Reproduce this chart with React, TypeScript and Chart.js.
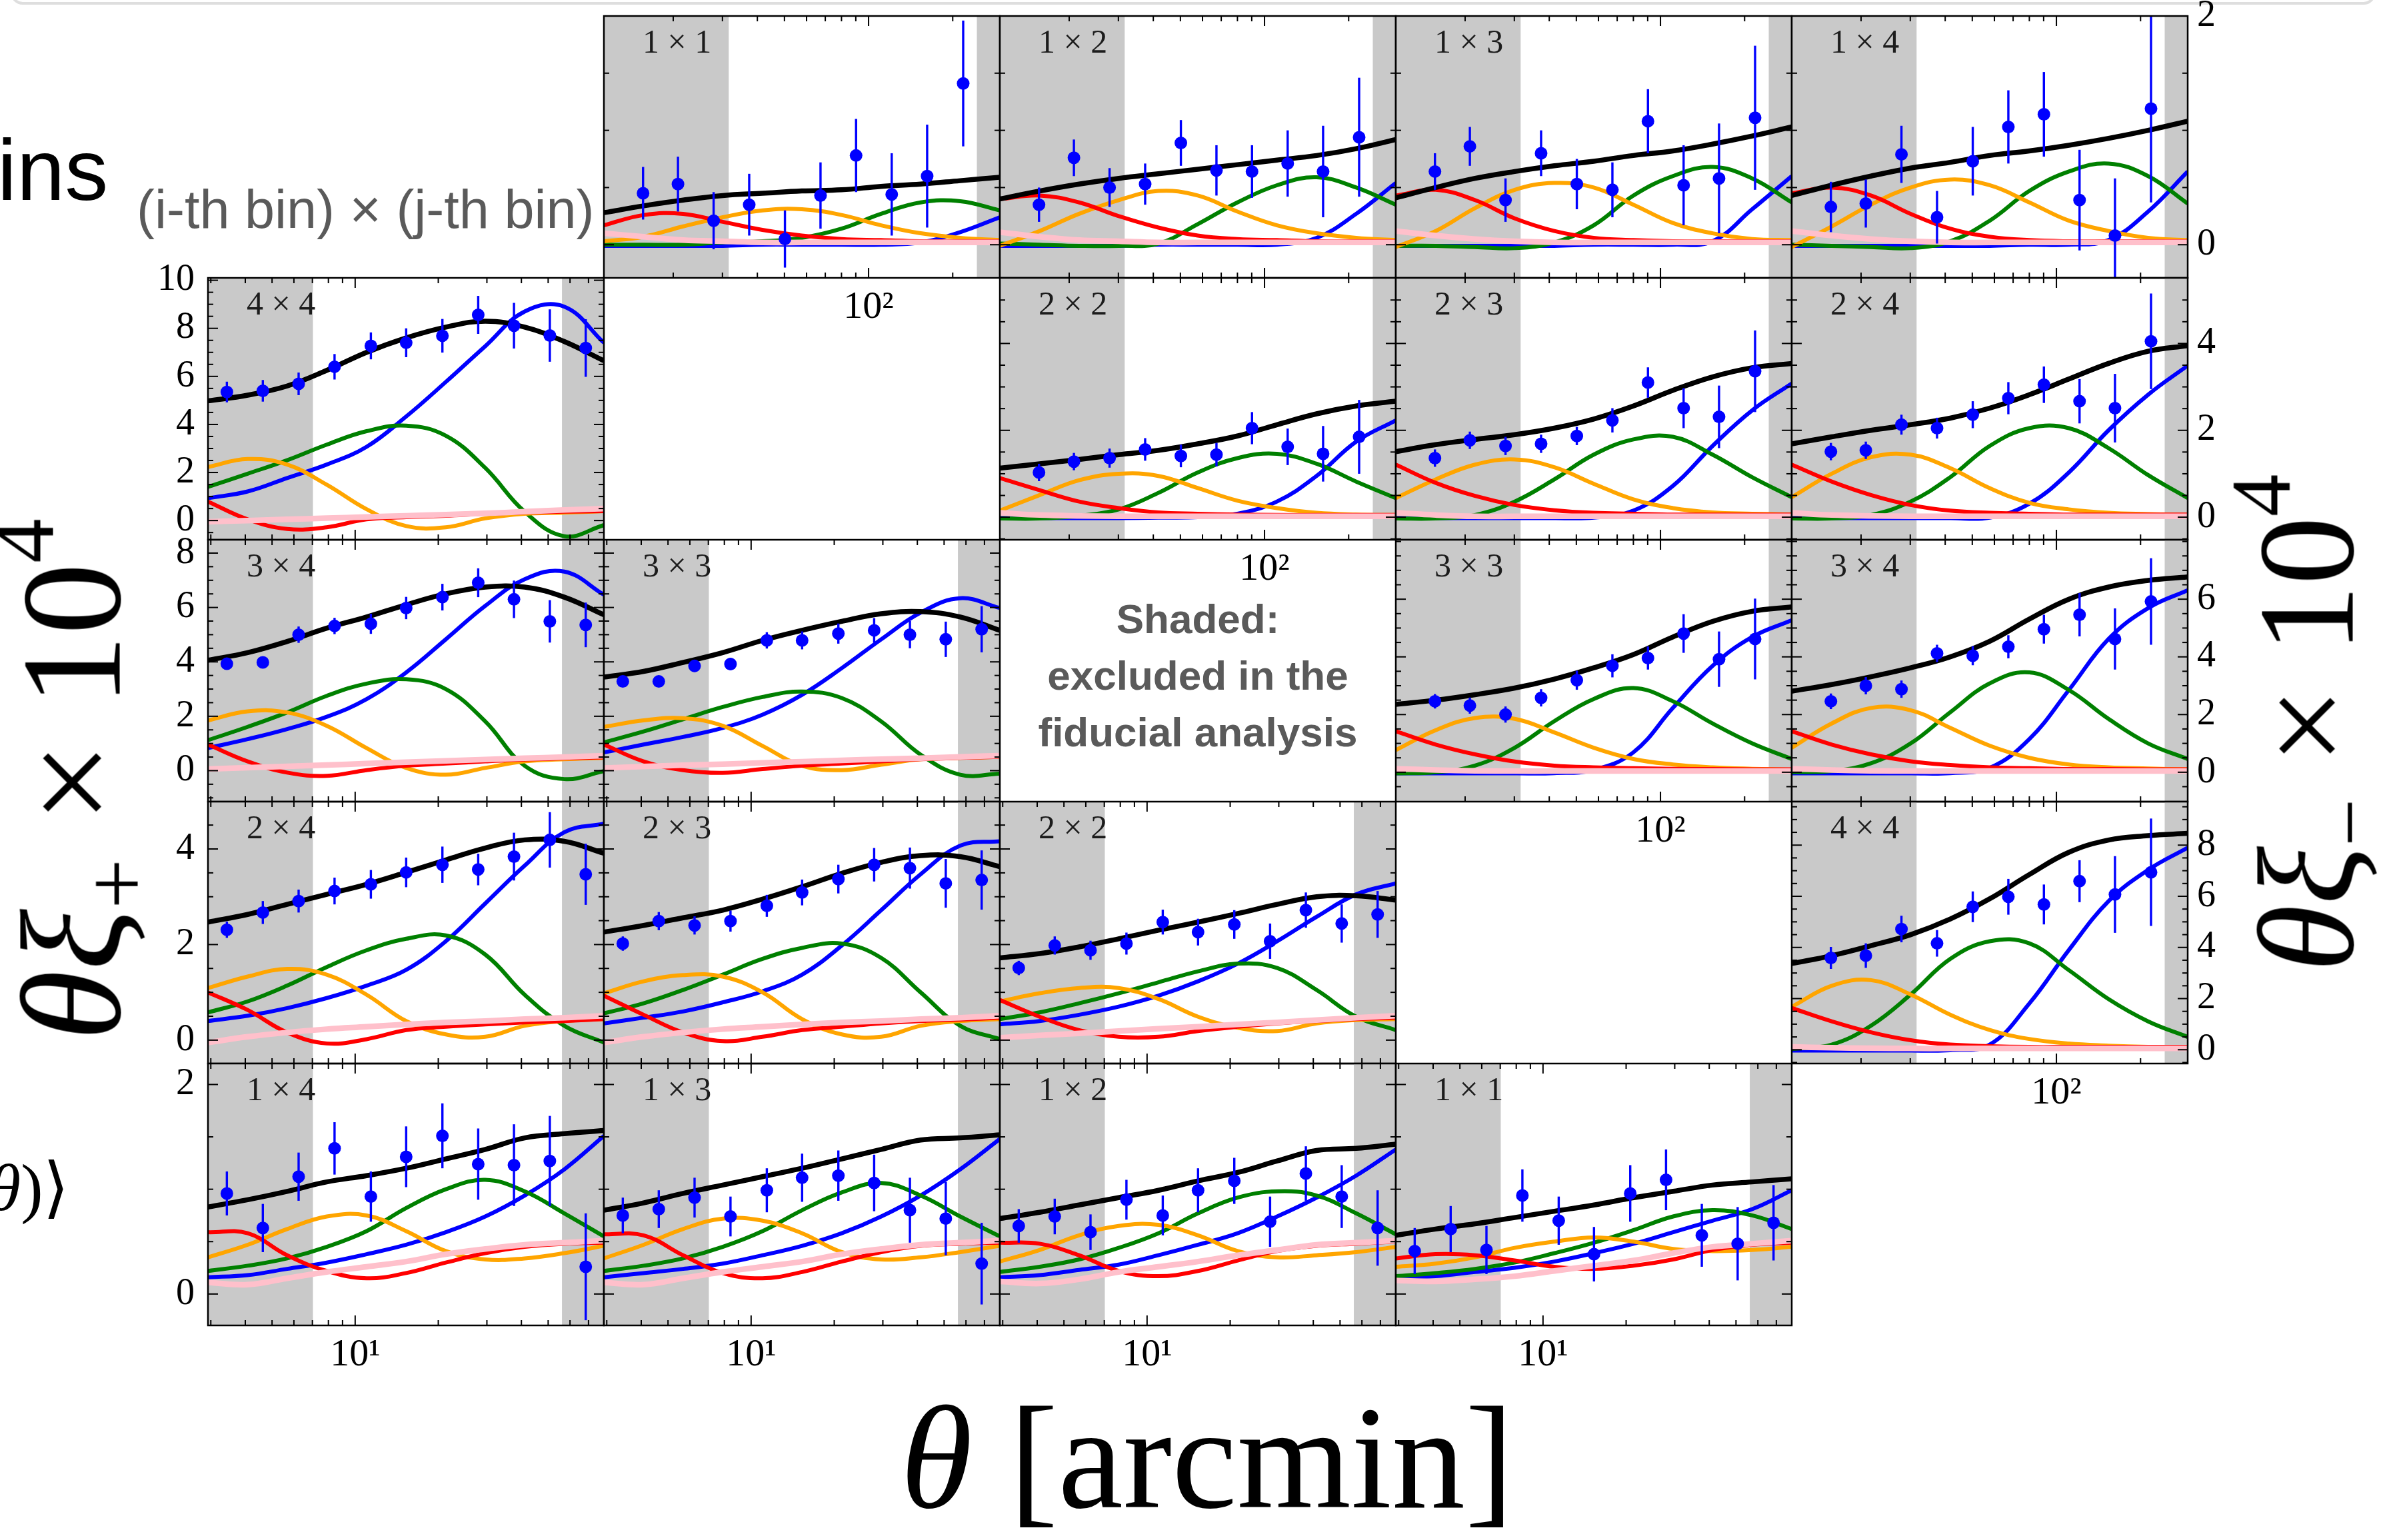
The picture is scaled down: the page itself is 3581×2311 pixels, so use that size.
import React, { useEffect, useRef } from "react";
import { Chart, registerables } from "chart.js";

Chart.register(...registerables);

// ---------------- θ sampling (arcmin) ----------------
const XIP_CURVE_THETA = [2.93, 4.08, 5.67, 7.89, 11.0, 15.3, 21.3, 29.6, 41.1, 57.2, 79.6];
const XIP_DATA_THETA = [3.43, 4.63, 6.24, 8.42, 11.4, 15.3, 20.7, 27.9, 37.6, 50.7, 68.4];
const XIM_CURVE_THETA = [11.3, 15.7, 21.7, 30.1, 41.7, 57.7, 80.0, 110.8, 153.6, 212.8, 294.9];
const XIM_DATA_THETA = [15.6, 20.8, 27.9, 37.4, 50.2, 67.3, 90.2, 121, 162, 218];

const XIP_THETA_RANGE = [2.93, 79.6];
const XIM_THETA_RANGE = [11.3, 294.9];
const XIP_EXCLUDED = [7.03, 56.1];
const XIM_EXCLUDED = [31.6, 244];
const XIP_MINOR_TICKS = [3, 4, 5, 6, 7, 8, 9, 20, 30, 40, 50, 60, 70];
const XIP_MAJOR_TICKS = [10];
const XIM_MINOR_TICKS = [20, 30, 40, 50, 60, 70, 80, 90, 200];
const XIM_MAJOR_TICKS = [100];

// ---------------- y ranges & labels per row ----------------
const XIP_ROW1_RANGE = [-0.8, 10.1];
const XIP_ROW2_RANGE = [-1.14, 8.49];
const XIP_ROW3_RANGE = [-0.49, 4.99];
const XIP_ROW4_RANGE = [-0.3, 2.2];
const XIM_ROW0_RANGE = [-0.29, 2.0];
const XIM_ROW1_RANGE = [-0.52, 5.51];
const XIM_ROW2_RANGE = [-1.02, 8.06];
const XIM_ROW3_RANGE = [-0.54, 9.7];

const XIP_ROW1_LABELS = [0, 2, 4, 6, 8, 10];
const XIP_ROW2_LABELS = [0, 2, 4, 6, 8];
const XIP_ROW3_LABELS = [0, 2, 4];
const XIP_ROW4_LABELS = [0, 2];
const XIM_ROW0_LABELS = [0, 2];
const XIM_ROW1_LABELS = [0, 2, 4];
const XIM_ROW2_LABELS = [0, 2, 4, 6];
const XIM_ROW3_LABELS = [0, 2, 4, 6, 8];

// ---------------- ξ+ panels ----------------
const P44_TOTAL = [4.98, 5.22, 5.6, 6.25, 7.0, 7.6, 8.05, 8.3, 8.05, 7.45, 6.65];
const P44_BLUE = [0.93, 1.21, 1.77, 2.33, 3.07, 4.33, 5.77, 7.26, 8.7, 8.9, 7.4];
const P44_GREEN = [1.4, 1.95, 2.51, 3.16, 3.72, 3.95, 3.53, 2.19, 0.37, -0.65, -0.19];
const P44_ORANGE = [2.23, 2.56, 2.33, 1.49, 0.47, -0.23, -0.28, 0.09, 0.28, 0.33, 0.39];
const P44_RED = [0.79, 0.05, -0.35, -0.28, 0.05, 0.14, 0.2, 0.28, 0.33, 0.37, 0.39];
const P44_PINK = [-0.05, 0.0, 0.05, 0.1, 0.15, 0.2, 0.25, 0.3, 0.37, 0.44, 0.5];
const P44_DATA = [5.35, 5.4, 5.69, 6.4, 7.27, 7.4, 7.69, 8.56, 8.11, 7.7, 7.18];
const P44_ERR = [0.43, 0.45, 0.47, 0.53, 0.56, 0.6, 0.7, 0.79, 0.95, 1.09, 1.2];

const P34_TOTAL = [4.06, 4.34, 4.75, 5.24, 5.65, 6.1, 6.5, 6.75, 6.75, 6.38, 5.73];
const P34_BLUE = [0.83, 1.16, 1.53, 1.98, 2.63, 3.61, 4.83, 6.06, 7.04, 7.32, 6.47];
const P34_GREEN = [1.12, 1.61, 2.14, 2.75, 3.2, 3.36, 3.0, 1.81, 0.18, -0.31, -0.02];
const P34_ORANGE = [1.85, 2.18, 2.14, 1.65, 0.83, 0.1, -0.15, 0.1, 0.34, 0.42, 0.47];
const P34_RED = [0.96, 0.34, -0.07, -0.19, 0.02, 0.18, 0.26, 0.34, 0.41, 0.45, 0.49];
const P34_PINK = [0.06, 0.11, 0.16, 0.21, 0.26, 0.31, 0.36, 0.41, 0.46, 0.5, 0.55];
const P34_DATA = [3.93, 3.98, 5.0, 5.32, 5.4, 5.98, 6.38, 6.91, 6.3, 5.49, 5.36];
const P34_ERR = [0.2, 0.2, 0.3, 0.3, 0.37, 0.41, 0.49, 0.53, 0.69, 0.78, 0.82];

const P33_TOTAL = [3.44, 3.65, 3.98, 4.34, 4.79, 5.16, 5.49, 5.77, 5.85, 5.65, 5.16];
const P33_BLUE = [0.67, 0.96, 1.24, 1.57, 2.06, 2.79, 3.77, 4.83, 5.81, 6.34, 5.98];
const P33_GREEN = [1.04, 1.44, 1.89, 2.34, 2.71, 2.91, 2.67, 1.81, 0.59, -0.15, -0.11];
const P33_ORANGE = [1.61, 1.85, 1.93, 1.65, 0.91, 0.18, 0.02, 0.22, 0.42, 0.47, 0.51];
const P33_RED = [0.96, 0.34, 0.02, -0.08, 0.06, 0.18, 0.26, 0.34, 0.42, 0.47, 0.51];
const P33_PINK = [0.1, 0.15, 0.2, 0.24, 0.29, 0.33, 0.38, 0.42, 0.46, 0.51, 0.55];
const P33_DATA = [3.28, 3.28, 3.85, 3.92, 4.79, 4.79, 5.04, 5.16, 5.0, 4.83, 5.2];
const P33_ERR = [0.2, 0.2, 0.22, 0.22, 0.3, 0.33, 0.37, 0.45, 0.5, 0.65, 0.85];

const P24_TOTAL = [2.47, 2.63, 2.84, 3.05, 3.26, 3.51, 3.77, 4.02, 4.19, 4.16, 3.91];
const P24_BLUE = [0.4, 0.51, 0.67, 0.88, 1.14, 1.47, 2.07, 2.86, 3.65, 4.35, 4.53];
const P24_GREEN = [0.58, 0.81, 1.14, 1.53, 1.88, 2.12, 2.19, 1.79, 0.95, 0.3, -0.05];
const P24_ORANGE = [1.09, 1.33, 1.49, 1.37, 0.95, 0.4, 0.12, 0.07, 0.3, 0.4, 0.44];
const P24_RED = [1.0, 0.63, 0.16, -0.07, 0.02, 0.21, 0.28, 0.33, 0.37, 0.4, 0.44];
const P24_PINK = [-0.05, 0.07, 0.16, 0.23, 0.28, 0.33, 0.37, 0.4, 0.44, 0.47, 0.51];
const P24_DATA = [2.31, 2.67, 2.91, 3.12, 3.26, 3.51, 3.67, 3.57, 3.84, 4.19, 3.47];
const P24_ERR = [0.17, 0.24, 0.24, 0.28, 0.3, 0.31, 0.38, 0.33, 0.5, 0.58, 0.64];

const P23_TOTAL = [2.26, 2.4, 2.56, 2.72, 2.95, 3.21, 3.49, 3.72, 3.86, 3.84, 3.63];
const P23_BLUE = [0.35, 0.47, 0.6, 0.79, 1.02, 1.37, 1.98, 2.72, 3.47, 4.07, 4.16];
const P23_GREEN = [0.56, 0.77, 1.05, 1.37, 1.7, 1.93, 2.02, 1.72, 1.0, 0.3, 0.02];
const P23_ORANGE = [0.98, 1.23, 1.36, 1.33, 1.0, 0.44, 0.12, 0.07, 0.3, 0.4, 0.44];
const P23_RED = [0.93, 0.53, 0.16, -0.02, 0.07, 0.21, 0.28, 0.35, 0.4, 0.43, 0.47];
const P23_PINK = [-0.05, 0.07, 0.16, 0.23, 0.28, 0.33, 0.37, 0.4, 0.44, 0.47, 0.51];
const P23_DATA = [2.02, 2.49, 2.4, 2.49, 2.81, 3.09, 3.37, 3.67, 3.6, 3.28, 3.35];
const P23_ERR = [0.15, 0.19, 0.19, 0.22, 0.23, 0.27, 0.3, 0.35, 0.43, 0.51, 0.62];

const P22_TOTAL = [1.72, 1.81, 1.95, 2.12, 2.3, 2.47, 2.65, 2.84, 3.0, 3.02, 2.93];
const P22_BLUE = [0.33, 0.4, 0.53, 0.7, 0.93, 1.23, 1.6, 2.07, 2.58, 3.05, 3.28];
const P22_GREEN = [0.44, 0.58, 0.77, 0.98, 1.21, 1.44, 1.6, 1.51, 1.05, 0.49, 0.21];
const P22_ORANGE = [0.81, 0.98, 1.09, 1.09, 0.86, 0.49, 0.26, 0.19, 0.35, 0.42, 0.44];
const P22_RED = [0.84, 0.49, 0.21, 0.07, 0.07, 0.19, 0.28, 0.35, 0.4, 0.44, 0.47];
const P22_PINK = [0.05, 0.1, 0.14, 0.19, 0.24, 0.28, 0.33, 0.37, 0.42, 0.47, 0.51];
const P22_DATA = [1.51, 1.98, 1.88, 2.02, 2.47, 2.26, 2.42, 2.07, 2.72, 2.44, 2.63];
const P22_ERR = [0.15, 0.19, 0.2, 0.23, 0.26, 0.28, 0.3, 0.37, 0.37, 0.4, 0.49];

const P14_TOTAL = [0.83, 0.9, 0.98, 1.07, 1.13, 1.2, 1.29, 1.38, 1.49, 1.53, 1.56];
const P14_BLUE = [0.16, 0.18, 0.24, 0.3, 0.38, 0.47, 0.59, 0.74, 0.94, 1.19, 1.51];
const P14_GREEN = [0.22, 0.27, 0.34, 0.45, 0.6, 0.82, 1.0, 1.09, 0.98, 0.77, 0.55];
const P14_ORANGE = [0.35, 0.47, 0.62, 0.74, 0.75, 0.6, 0.41, 0.33, 0.34, 0.39, 0.46];
const P14_RED = [0.59, 0.58, 0.37, 0.22, 0.15, 0.2, 0.3, 0.39, 0.45, 0.48, 0.49];
const P14_PINK = [0.11, 0.09, 0.15, 0.21, 0.26, 0.31, 0.38, 0.43, 0.47, 0.49, 0.51];
const P14_DATA = [0.96, 0.63, 1.12, 1.39, 0.93, 1.31, 1.51, 1.24, 1.23, 1.27, 0.26];
const P14_ERR = [0.21, 0.23, 0.23, 0.25, 0.24, 0.29, 0.31, 0.34, 0.39, 0.43, 0.51];

const P13_TOTAL = [0.8, 0.87, 0.96, 1.04, 1.12, 1.2, 1.29, 1.38, 1.47, 1.49, 1.52];
const P13_BLUE = [0.16, 0.2, 0.24, 0.29, 0.37, 0.46, 0.58, 0.74, 0.94, 1.19, 1.48];
const P13_GREEN = [0.22, 0.27, 0.34, 0.45, 0.6, 0.8, 0.97, 1.06, 0.94, 0.74, 0.55];
const P13_ORANGE = [0.34, 0.47, 0.62, 0.72, 0.7, 0.58, 0.4, 0.33, 0.35, 0.4, 0.46];
const P13_RED = [0.57, 0.56, 0.37, 0.2, 0.15, 0.21, 0.31, 0.4, 0.46, 0.48, 0.49];
const P13_PINK = [0.11, 0.09, 0.15, 0.21, 0.26, 0.31, 0.38, 0.43, 0.47, 0.49, 0.51];
const P13_DATA = [0.75, 0.81, 0.92, 0.74, 0.99, 1.11, 1.13, 1.06, 0.8, 0.72, 0.29];
const P13_ERR = [0.17, 0.18, 0.19, 0.19, 0.21, 0.23, 0.24, 0.27, 0.31, 0.35, 0.39];

const P12_TOTAL = [0.72, 0.78, 0.85, 0.92, 0.99, 1.08, 1.16, 1.27, 1.37, 1.39, 1.43];
const P12_BLUE = [0.16, 0.18, 0.23, 0.28, 0.37, 0.47, 0.58, 0.74, 0.92, 1.13, 1.38];
const P12_GREEN = [0.21, 0.26, 0.33, 0.44, 0.58, 0.77, 0.92, 0.98, 0.94, 0.77, 0.57];
const P12_ORANGE = [0.31, 0.42, 0.56, 0.65, 0.66, 0.56, 0.41, 0.35, 0.37, 0.4, 0.45];
const P12_RED = [0.49, 0.48, 0.37, 0.22, 0.17, 0.22, 0.32, 0.41, 0.46, 0.48, 0.5];
const P12_PINK = [0.12, 0.1, 0.14, 0.21, 0.26, 0.31, 0.37, 0.42, 0.47, 0.49, 0.51];
const P12_DATA = [0.65, 0.74, 0.59, 0.9, 0.75, 0.99, 1.08, 0.69, 1.15, 0.93, 0.63];
const P12_ERR = [0.16, 0.17, 0.17, 0.19, 0.19, 0.21, 0.22, 0.24, 0.26, 0.3, 0.36];

const P11_TOTAL = [0.56, 0.62, 0.67, 0.73, 0.79, 0.85, 0.92, 0.98, 1.04, 1.07, 1.1];
const P11_BLUE = [0.16, 0.17, 0.21, 0.25, 0.31, 0.39, 0.48, 0.59, 0.7, 0.81, 0.99];
const P11_GREEN = [0.17, 0.2, 0.24, 0.3, 0.39, 0.49, 0.61, 0.74, 0.8, 0.75, 0.62];
const P11_ORANGE = [0.26, 0.29, 0.35, 0.44, 0.5, 0.54, 0.5, 0.43, 0.41, 0.42, 0.45];
const P11_RED = [0.34, 0.38, 0.37, 0.32, 0.26, 0.24, 0.27, 0.33, 0.42, 0.47, 0.49];
const P11_PINK = [0.13, 0.12, 0.14, 0.17, 0.22, 0.27, 0.32, 0.39, 0.45, 0.48, 0.51];
const P11_DATA = [0.41, 0.62, 0.42, 0.94, 0.7, 0.38, 0.96, 1.09, 0.56, 0.48, 0.68];
const P11_ERR = [0.22, 0.22, 0.23, 0.25, 0.23, 0.26, 0.27, 0.29, 0.3, 0.35, 0.36];

// ---------------- ξ− panels ----------------
const M11_TOTAL = [0.28, 0.34, 0.39, 0.43, 0.45, 0.47, 0.48, 0.51, 0.53, 0.56, 0.59];
const M11_BLUE = [-0.01, -0.01, -0.01, -0.01, 0.0, 0.0, 0.0, 0.0, 0.02, 0.11, 0.24];
const M11_GREEN = [0.0, 0.0, 0.0, 0.02, 0.03, 0.06, 0.14, 0.27, 0.37, 0.38, 0.3];
const M11_ORANGE = [0.03, 0.07, 0.16, 0.24, 0.3, 0.31, 0.26, 0.17, 0.1, 0.06, 0.04];
const M11_RED = [0.17, 0.26, 0.27, 0.2, 0.13, 0.08, 0.05, 0.04, 0.03, 0.03, 0.03];
const M11_PINK = [0.1, 0.07, 0.04, 0.03, 0.02, 0.02, 0.02, 0.02, 0.02, 0.02, 0.02];
const M11_DATA = [0.45, 0.53, 0.21, 0.35, 0.05, 0.43, 0.78, 0.44, 0.6, 1.41];
const M11_ERR = [0.23, 0.24, 0.25, 0.27, 0.25, 0.29, 0.32, 0.36, 0.45, 0.55];

const M12_TOTAL = [0.4, 0.47, 0.53, 0.58, 0.62, 0.66, 0.7, 0.74, 0.78, 0.84, 0.92];
const M12_BLUE = [-0.01, -0.01, -0.01, -0.01, 0.0, 0.0, 0.0, 0.0, 0.06, 0.27, 0.54];
const M12_GREEN = [0.01, 0.0, -0.01, -0.01, 0.01, 0.18, 0.37, 0.52, 0.59, 0.5, 0.35];
const M12_ORANGE = [-0.01, 0.12, 0.27, 0.39, 0.47, 0.43, 0.29, 0.17, 0.1, 0.06, 0.04];
const M12_RED = [0.4, 0.43, 0.37, 0.25, 0.15, 0.08, 0.05, 0.04, 0.03, 0.03, 0.03];
const M12_PINK = [0.11, 0.07, 0.04, 0.03, 0.02, 0.02, 0.02, 0.02, 0.02, 0.02, 0.02];
const M12_DATA = [0.35, 0.76, 0.5, 0.53, 0.89, 0.65, 0.64, 0.71, 0.64, 0.94];
const M12_ERR = [0.15, 0.16, 0.17, 0.18, 0.2, 0.22, 0.23, 0.29, 0.4, 0.52];

const M13_TOTAL = [0.41, 0.5, 0.58, 0.64, 0.69, 0.73, 0.78, 0.82, 0.88, 0.95, 1.03];
const M13_BLUE = [-0.01, -0.01, -0.01, -0.01, -0.01, 0.0, 0.0, 0.0, 0.03, 0.31, 0.6];
const M13_GREEN = [-0.01, -0.01, -0.02, -0.03, 0.02, 0.17, 0.43, 0.6, 0.68, 0.58, 0.37];
const M13_ORANGE = [-0.02, 0.12, 0.32, 0.48, 0.54, 0.5, 0.35, 0.19, 0.1, 0.05, 0.04];
const M13_RED = [0.43, 0.48, 0.39, 0.23, 0.12, 0.06, 0.04, 0.03, 0.03, 0.03, 0.03];
const M13_PINK = [0.12, 0.08, 0.05, 0.03, 0.02, 0.02, 0.02, 0.02, 0.02, 0.02, 0.02];
const M13_DATA = [0.64, 0.86, 0.39, 0.8, 0.53, 0.48, 1.08, 0.52, 0.58, 1.11];
const M13_ERR = [0.16, 0.17, 0.19, 0.2, 0.22, 0.24, 0.28, 0.35, 0.48, 0.63];

const M14_TOTAL = [0.43, 0.52, 0.6, 0.67, 0.72, 0.78, 0.82, 0.87, 0.93, 1.0, 1.08];
const M14_BLUE = [-0.01, -0.01, -0.01, -0.01, -0.01, -0.01, 0.0, 0.0, 0.04, 0.29, 0.64];
const M14_GREEN = [0.0, -0.01, -0.02, -0.03, 0.03, 0.21, 0.47, 0.64, 0.71, 0.6, 0.36];
const M14_ORANGE = [-0.02, 0.16, 0.35, 0.5, 0.57, 0.52, 0.37, 0.21, 0.12, 0.06, 0.04];
const M14_RED = [0.45, 0.5, 0.43, 0.27, 0.14, 0.07, 0.04, 0.03, 0.03, 0.03, 0.03];
const M14_PINK = [0.12, 0.08, 0.05, 0.03, 0.02, 0.02, 0.02, 0.02, 0.02, 0.02, 0.02];
const M14_DATA = [0.33, 0.36, 0.79, 0.24, 0.73, 1.03, 1.14, 0.39, 0.08, 1.19];
const M14_ERR = [0.22, 0.21, 0.25, 0.23, 0.3, 0.32, 0.37, 0.44, 0.5, 0.82];

const M22_TOTAL = [1.13, 1.23, 1.33, 1.44, 1.54, 1.69, 1.87, 2.13, 2.38, 2.56, 2.67];
const M22_BLUE = [-0.02, -0.02, -0.02, -0.02, -0.01, 0.0, 0.08, 0.36, 0.95, 1.74, 2.23];
const M22_GREEN = [-0.03, -0.03, 0.03, 0.18, 0.56, 1.03, 1.36, 1.46, 1.23, 0.82, 0.44];
const M22_ORANGE = [0.15, 0.51, 0.85, 1.0, 0.95, 0.67, 0.38, 0.21, 0.1, 0.06, 0.05];
const M22_RED = [0.9, 0.62, 0.36, 0.21, 0.11, 0.08, 0.06, 0.05, 0.05, 0.05, 0.05];
const M22_PINK = [0.1, 0.05, 0.03, 0.02, 0.02, 0.02, 0.02, 0.02, 0.02, 0.02, 0.02];
const M22_DATA = [1.03, 1.28, 1.36, 1.56, 1.41, 1.44, 2.05, 1.62, 1.46, 1.85];
const M22_ERR = [0.2, 0.2, 0.22, 0.26, 0.26, 0.27, 0.37, 0.42, 0.64, 0.85];

const M23_TOTAL = [1.51, 1.67, 1.79, 1.9, 2.05, 2.26, 2.56, 2.92, 3.23, 3.44, 3.54];
const M23_BLUE = [-0.02, -0.02, -0.02, -0.02, -0.02, -0.01, 0.15, 0.72, 1.64, 2.46, 3.08];
const M23_GREEN = [-0.03, -0.03, 0.05, 0.36, 0.87, 1.44, 1.79, 1.85, 1.44, 0.92, 0.46];
const M23_ORANGE = [0.44, 0.87, 1.21, 1.33, 1.15, 0.77, 0.41, 0.21, 0.11, 0.08, 0.06];
const M23_RED = [1.21, 0.79, 0.49, 0.28, 0.16, 0.1, 0.08, 0.06, 0.06, 0.06, 0.06];
const M23_PINK = [0.1, 0.05, 0.02, 0.02, 0.02, 0.02, 0.02, 0.02, 0.02, 0.02, 0.02];
const M23_DATA = [1.36, 1.77, 1.64, 1.69, 1.87, 2.23, 3.1, 2.51, 2.31, 3.36];
const M23_ERR = [0.2, 0.2, 0.21, 0.21, 0.21, 0.28, 0.35, 0.46, 0.72, 0.94];

const M24_TOTAL = [1.69, 1.85, 2.0, 2.13, 2.28, 2.51, 2.82, 3.18, 3.54, 3.82, 3.95];
const M24_BLUE = [-0.02, -0.02, -0.02, -0.02, -0.02, -0.01, 0.31, 1.03, 2.0, 2.82, 3.49];
const M24_GREEN = [-0.03, -0.03, 0.05, 0.36, 0.92, 1.64, 2.05, 2.05, 1.59, 0.97, 0.44];
const M24_ORANGE = [0.46, 1.0, 1.38, 1.44, 1.13, 0.67, 0.33, 0.18, 0.1, 0.07, 0.05];
const M24_RED = [1.21, 0.82, 0.51, 0.28, 0.15, 0.1, 0.08, 0.06, 0.06, 0.06, 0.06];
const M24_PINK = [0.1, 0.05, 0.03, 0.02, 0.02, 0.02, 0.02, 0.02, 0.02, 0.02, 0.02];
const M24_DATA = [1.51, 1.54, 2.13, 2.05, 2.36, 2.74, 3.05, 2.67, 2.51, 4.05];
const M24_ERR = [0.2, 0.2, 0.23, 0.24, 0.31, 0.37, 0.42, 0.51, 0.79, 1.1];

const M33_TOTAL = [2.35, 2.5, 2.69, 2.92, 3.23, 3.62, 4.08, 4.69, 5.23, 5.58, 5.73];
const M33_BLUE = [-0.04, -0.04, -0.04, -0.04, -0.03, 0.08, 0.69, 2.23, 3.69, 4.69, 5.27];
const M33_GREEN = [-0.04, 0.0, 0.23, 0.85, 1.77, 2.54, 2.92, 2.46, 1.69, 1.0, 0.46];
const M33_ORANGE = [0.77, 1.46, 1.88, 1.85, 1.38, 0.85, 0.46, 0.27, 0.17, 0.12, 0.09];
const M33_RED = [1.42, 0.96, 0.62, 0.37, 0.23, 0.17, 0.14, 0.12, 0.11, 0.1, 0.1];
const M33_PINK = [0.12, 0.08, 0.05, 0.04, 0.04, 0.04, 0.04, 0.04, 0.04, 0.04, 0.04];
const M33_DATA = [2.46, 2.31, 2.0, 2.58, 3.19, 3.69, 3.96, 4.81, 3.92, 4.62];
const M33_ERR = [0.25, 0.28, 0.28, 0.3, 0.33, 0.4, 0.4, 0.67, 0.96, 1.4];

const M34_TOTAL = [2.81, 3.04, 3.31, 3.62, 4.0, 4.54, 5.31, 6.0, 6.42, 6.65, 6.77];
const M34_BLUE = [-0.04, -0.04, -0.04, -0.04, -0.03, 0.15, 1.15, 2.85, 4.62, 5.69, 6.31];
const M34_GREEN = [0.0, 0.04, 0.31, 1.0, 2.08, 3.08, 3.46, 2.85, 1.85, 1.0, 0.46];
const M34_ORANGE = [0.85, 1.69, 2.23, 2.15, 1.54, 0.92, 0.5, 0.27, 0.17, 0.13, 0.1];
const M34_RED = [1.42, 0.96, 0.62, 0.38, 0.25, 0.17, 0.14, 0.11, 0.11, 0.1, 0.1];
const M34_PINK = [0.12, 0.08, 0.05, 0.04, 0.04, 0.04, 0.04, 0.04, 0.04, 0.04, 0.04];
const M34_DATA = [2.46, 3.0, 2.88, 4.12, 4.04, 4.35, 4.96, 5.46, 4.62, 5.92];
const M34_ERR = [0.27, 0.3, 0.3, 0.3, 0.33, 0.4, 0.5, 0.75, 1.06, 1.5];

const M44_TOTAL = [3.37, 3.68, 4.07, 4.5, 5.11, 5.9, 6.85, 7.72, 8.2, 8.37, 8.46];
const M44_BLUE = [-0.03, -0.03, -0.03, -0.03, -0.02, 0.2, 1.81, 3.9, 5.81, 7.03, 7.9];
const M44_GREEN = [0.03, 0.2, 0.94, 2.16, 3.55, 4.24, 4.16, 3.11, 1.98, 1.11, 0.5];
const M44_ORANGE = [1.68, 2.5, 2.72, 2.16, 1.37, 0.77, 0.42, 0.24, 0.16, 0.11, 0.09];
const M44_RED = [1.63, 1.11, 0.68, 0.37, 0.2, 0.14, 0.11, 0.11, 0.11, 0.11, 0.11];
const M44_PINK = [0.11, 0.08, 0.06, 0.05, 0.05, 0.05, 0.05, 0.05, 0.05, 0.05, 0.05];
const M44_DATA = [3.59, 3.68, 4.72, 4.16, 5.59, 5.98, 5.68, 6.59, 6.07, 6.94];
const M44_ERR = [0.43, 0.48, 0.52, 0.52, 0.6, 0.7, 0.78, 0.82, 1.5, 2.1];

// ---------------- layout & style ----------------
const COL_X = [312, 906, 1500, 2094, 2688, 3282];
const ROW_Y = [24, 417, 810, 1203, 1596, 1989];
const PAD_L = 150;
const PAD_R = 130;
const PAD_T = 70;
const PAD_B = 100;
const SERIF = '"Liberation Serif", "DejaVu Serif", serif';
const SANS = '"Liberation Sans", Arial, sans-serif';
const SHADE_COLOR = "#c9c9c9";
const C_TOTAL = "#000000";
const C_BLUE = "#0000ff";
const C_GREEN = "#008000";
const C_ORANGE = "#ffa500";
const C_RED = "#ff0000";
const C_PINK = "#ffc0cb";

type PanelDef = {
  key: string;
  kind: "p" | "m";
  row: number;
  col: number;
  label: string;
  total: number[];
  blue: number[];
  green: number[];
  orange: number[];
  red: number[];
  pink: number[];
  data: number[];
  err: number[];
  yRange: number[];
  yLabels: number[];
  yLeft?: boolean;
  yRight?: boolean;
  xLabels?: boolean;
};

const PANELS: PanelDef[] = [
  { key: "p44", kind: "p", row: 1, col: 0, label: "4 × 4", total: P44_TOTAL, blue: P44_BLUE, green: P44_GREEN, orange: P44_ORANGE, red: P44_RED, pink: P44_PINK, data: P44_DATA, err: P44_ERR, yRange: XIP_ROW1_RANGE, yLabels: XIP_ROW1_LABELS, yLeft: true },
  { key: "p34", kind: "p", row: 2, col: 0, label: "3 × 4", total: P34_TOTAL, blue: P34_BLUE, green: P34_GREEN, orange: P34_ORANGE, red: P34_RED, pink: P34_PINK, data: P34_DATA, err: P34_ERR, yRange: XIP_ROW2_RANGE, yLabels: XIP_ROW2_LABELS, yLeft: true },
  { key: "p33", kind: "p", row: 2, col: 1, label: "3 × 3", total: P33_TOTAL, blue: P33_BLUE, green: P33_GREEN, orange: P33_ORANGE, red: P33_RED, pink: P33_PINK, data: P33_DATA, err: P33_ERR, yRange: XIP_ROW2_RANGE, yLabels: XIP_ROW2_LABELS },
  { key: "p24", kind: "p", row: 3, col: 0, label: "2 × 4", total: P24_TOTAL, blue: P24_BLUE, green: P24_GREEN, orange: P24_ORANGE, red: P24_RED, pink: P24_PINK, data: P24_DATA, err: P24_ERR, yRange: XIP_ROW3_RANGE, yLabels: XIP_ROW3_LABELS, yLeft: true },
  { key: "p23", kind: "p", row: 3, col: 1, label: "2 × 3", total: P23_TOTAL, blue: P23_BLUE, green: P23_GREEN, orange: P23_ORANGE, red: P23_RED, pink: P23_PINK, data: P23_DATA, err: P23_ERR, yRange: XIP_ROW3_RANGE, yLabels: XIP_ROW3_LABELS },
  { key: "p22", kind: "p", row: 3, col: 2, label: "2 × 2", total: P22_TOTAL, blue: P22_BLUE, green: P22_GREEN, orange: P22_ORANGE, red: P22_RED, pink: P22_PINK, data: P22_DATA, err: P22_ERR, yRange: XIP_ROW3_RANGE, yLabels: XIP_ROW3_LABELS },
  { key: "p14", kind: "p", row: 4, col: 0, label: "1 × 4", total: P14_TOTAL, blue: P14_BLUE, green: P14_GREEN, orange: P14_ORANGE, red: P14_RED, pink: P14_PINK, data: P14_DATA, err: P14_ERR, yRange: XIP_ROW4_RANGE, yLabels: XIP_ROW4_LABELS, yLeft: true, xLabels: true },
  { key: "p13", kind: "p", row: 4, col: 1, label: "1 × 3", total: P13_TOTAL, blue: P13_BLUE, green: P13_GREEN, orange: P13_ORANGE, red: P13_RED, pink: P13_PINK, data: P13_DATA, err: P13_ERR, yRange: XIP_ROW4_RANGE, yLabels: XIP_ROW4_LABELS, xLabels: true },
  { key: "p12", kind: "p", row: 4, col: 2, label: "1 × 2", total: P12_TOTAL, blue: P12_BLUE, green: P12_GREEN, orange: P12_ORANGE, red: P12_RED, pink: P12_PINK, data: P12_DATA, err: P12_ERR, yRange: XIP_ROW4_RANGE, yLabels: XIP_ROW4_LABELS, xLabels: true },
  { key: "p11", kind: "p", row: 4, col: 3, label: "1 × 1", total: P11_TOTAL, blue: P11_BLUE, green: P11_GREEN, orange: P11_ORANGE, red: P11_RED, pink: P11_PINK, data: P11_DATA, err: P11_ERR, yRange: XIP_ROW4_RANGE, yLabels: XIP_ROW4_LABELS, xLabels: true },
  { key: "m11", kind: "m", row: 0, col: 1, label: "1 × 1", total: M11_TOTAL, blue: M11_BLUE, green: M11_GREEN, orange: M11_ORANGE, red: M11_RED, pink: M11_PINK, data: M11_DATA, err: M11_ERR, yRange: XIM_ROW0_RANGE, yLabels: XIM_ROW0_LABELS, xLabels: true },
  { key: "m12", kind: "m", row: 0, col: 2, label: "1 × 2", total: M12_TOTAL, blue: M12_BLUE, green: M12_GREEN, orange: M12_ORANGE, red: M12_RED, pink: M12_PINK, data: M12_DATA, err: M12_ERR, yRange: XIM_ROW0_RANGE, yLabels: XIM_ROW0_LABELS },
  { key: "m13", kind: "m", row: 0, col: 3, label: "1 × 3", total: M13_TOTAL, blue: M13_BLUE, green: M13_GREEN, orange: M13_ORANGE, red: M13_RED, pink: M13_PINK, data: M13_DATA, err: M13_ERR, yRange: XIM_ROW0_RANGE, yLabels: XIM_ROW0_LABELS },
  { key: "m14", kind: "m", row: 0, col: 4, label: "1 × 4", total: M14_TOTAL, blue: M14_BLUE, green: M14_GREEN, orange: M14_ORANGE, red: M14_RED, pink: M14_PINK, data: M14_DATA, err: M14_ERR, yRange: XIM_ROW0_RANGE, yLabels: XIM_ROW0_LABELS, yRight: true },
  { key: "m22", kind: "m", row: 1, col: 2, label: "2 × 2", total: M22_TOTAL, blue: M22_BLUE, green: M22_GREEN, orange: M22_ORANGE, red: M22_RED, pink: M22_PINK, data: M22_DATA, err: M22_ERR, yRange: XIM_ROW1_RANGE, yLabels: XIM_ROW1_LABELS, xLabels: true },
  { key: "m23", kind: "m", row: 1, col: 3, label: "2 × 3", total: M23_TOTAL, blue: M23_BLUE, green: M23_GREEN, orange: M23_ORANGE, red: M23_RED, pink: M23_PINK, data: M23_DATA, err: M23_ERR, yRange: XIM_ROW1_RANGE, yLabels: XIM_ROW1_LABELS },
  { key: "m24", kind: "m", row: 1, col: 4, label: "2 × 4", total: M24_TOTAL, blue: M24_BLUE, green: M24_GREEN, orange: M24_ORANGE, red: M24_RED, pink: M24_PINK, data: M24_DATA, err: M24_ERR, yRange: XIM_ROW1_RANGE, yLabels: XIM_ROW1_LABELS, yRight: true },
  { key: "m33", kind: "m", row: 2, col: 3, label: "3 × 3", total: M33_TOTAL, blue: M33_BLUE, green: M33_GREEN, orange: M33_ORANGE, red: M33_RED, pink: M33_PINK, data: M33_DATA, err: M33_ERR, yRange: XIM_ROW2_RANGE, yLabels: XIM_ROW2_LABELS, xLabels: true },
  { key: "m34", kind: "m", row: 2, col: 4, label: "3 × 4", total: M34_TOTAL, blue: M34_BLUE, green: M34_GREEN, orange: M34_ORANGE, red: M34_RED, pink: M34_PINK, data: M34_DATA, err: M34_ERR, yRange: XIM_ROW2_RANGE, yLabels: XIM_ROW2_LABELS, yRight: true },
  { key: "m44", kind: "m", row: 3, col: 4, label: "4 × 4", total: M44_TOTAL, blue: M44_BLUE, green: M44_GREEN, orange: M44_ORANGE, red: M44_RED, pink: M44_PINK, data: M44_DATA, err: M44_ERR, yRange: XIM_ROW3_RANGE, yLabels: XIM_ROW3_LABELS, yRight: true, xLabels: true },
];

function halfSteps(range: number[]): number[] {
  const out: number[] = [];
  for (let k = Math.ceil(range[0] * 2); k <= Math.floor(range[1] * 2); k++) out.push(k / 2);
  return out;
}

function pairs(xs: number[], ys: number[]) {
  return ys.map((y, i) => ({ x: xs[i], y }));
}

function makeDeco(def: PanelDef) {
  const isP = def.kind === "p";
  const shade = isP ? XIP_EXCLUDED : XIM_EXCLUDED;
  const xMinor = isP ? XIP_MINOR_TICKS : XIM_MINOR_TICKS;
  const xMajor = isP ? XIP_MAJOR_TICKS : XIM_MAJOR_TICKS;
  const dataX = isP ? XIP_DATA_THETA : XIM_DATA_THETA;
  const yMinor = halfSteps(def.yRange);
  return {
    id: "panelDeco",
    beforeDatasetsDraw(chart: any) {
      const { ctx, chartArea: a } = chart;
      const xs = chart.scales.x;
      const clamp = (v: number) => Math.max(a.left, Math.min(a.right, v));
      const p0 = clamp(xs.getPixelForValue(shade[0]));
      const p1 = clamp(xs.getPixelForValue(shade[1]));
      ctx.save();
      ctx.fillStyle = SHADE_COLOR;
      ctx.fillRect(a.left, a.top, p0 - a.left, a.bottom - a.top);
      ctx.fillRect(p1, a.top, a.right - p1, a.bottom - a.top);
      ctx.restore();
    },
    afterDatasetsDraw(chart: any) {
      const { ctx, chartArea: a } = chart;
      const xs = chart.scales.x;
      const ys = chart.scales.y;
      // error bars
      ctx.save();
      ctx.beginPath();
      ctx.rect(a.left, a.top, a.right - a.left, a.bottom - a.top);
      ctx.clip();
      ctx.strokeStyle = C_BLUE;
      ctx.lineWidth = 3.4;
      def.data.forEach((v, i) => {
        const px = xs.getPixelForValue(dataX[i]);
        ctx.beginPath();
        ctx.moveTo(px, ys.getPixelForValue(v - def.err[i]));
        ctx.lineTo(px, ys.getPixelForValue(v + def.err[i]));
        ctx.stroke();
      });
      ctx.restore();
      // ticks (inward, all four sides)
      ctx.save();
      ctx.strokeStyle = "#000";
      ctx.lineWidth = 2;
      const seg = (x1: number, y1: number, x2: number, y2: number) => {
        ctx.beginPath();
        ctx.moveTo(x1, y1);
        ctx.lineTo(x2, y2);
        ctx.stroke();
      };
      const xt = (vals: number[], len: number) =>
        vals.forEach((v) => {
          const px = xs.getPixelForValue(v);
          if (px <= a.left + 1 || px >= a.right - 1) return;
          seg(px, a.bottom, px, a.bottom - len);
          seg(px, a.top, px, a.top + len);
        });
      const yt = (vals: number[], len: number) =>
        vals.forEach((v) => {
          const py = ys.getPixelForValue(v);
          if (py <= a.top + 1 || py >= a.bottom - 1) return;
          seg(a.left, py, a.left + len, py);
          seg(a.right, py, a.right - len, py);
        });
      xt(xMinor, 8);
      xt(xMajor, 15);
      yt(yMinor.filter((v) => !def.yLabels.includes(v)), 8);
      yt(def.yLabels, 15);
      ctx.lineWidth = 2.5;
      ctx.strokeRect(a.left, a.top, a.right - a.left, a.bottom - a.top);
      // panel label
      ctx.fillStyle = "#1c1c1c";
      ctx.font = `50px ${SERIF}`;
      ctx.textAlign = "left";
      ctx.textBaseline = "middle";
      ctx.fillText(def.label, a.left + 58, a.top + 42);
      ctx.restore();
    },
  };
}

function buildConfig(def: PanelDef): any {
  const isP = def.kind === "p";
  const curveX = isP ? XIP_CURVE_THETA : XIM_CURVE_THETA;
  const dataX = isP ? XIP_DATA_THETA : XIM_DATA_THETA;
  const xr = isP ? XIP_THETA_RANGE : XIM_THETA_RANGE;
  const xMajor = isP ? XIP_MAJOR_TICKS : XIM_MAJOR_TICKS;
  const line = (vals: number[], color: string, width: number) => ({
    data: pairs(curveX, vals),
    borderColor: color,
    borderWidth: width,
    pointRadius: 0,
    tension: 0.4,
    fill: false,
    clip: 0,
  });
  return {
    type: "line",
    data: {
      datasets: [
        {
          data: pairs(dataX, def.data),
          showLine: false,
          pointRadius: 9.5,
          pointBackgroundColor: C_BLUE,
          pointBorderWidth: 0,
          clip: 0,
        },
        line(def.total, C_TOTAL, 7.5),
        line(def.pink, C_PINK, 8.5),
        line(def.red, C_RED, 6),
        line(def.orange, C_ORANGE, 6),
        line(def.green, C_GREEN, 6),
        line(def.blue, C_BLUE, 6),
      ],
    },
    options: {
      animation: false,
      responsive: false,
      devicePixelRatio: 1,
      events: [],
      layout: {
        autoPadding: false,
        padding: {
          top: PAD_T,
          bottom: 0,
          left: def.yRight ? PAD_L : 0,
          right: def.yRight ? 0 : PAD_R,
        },
      },
      plugins: { legend: { display: false }, tooltip: { enabled: false } },
      scales: {
        x: {
          type: "logarithmic",
          min: xr[0],
          max: xr[1],
          display: !!def.xLabels,
          position: "bottom",
          grid: { display: false, drawTicks: false },
          border: { display: false },
          ticks: {
            font: { family: SERIF, size: 58 },
            color: "#000",
            padding: 10,
            maxRotation: 0,
            autoSkip: false,
            callback: (v: number) => (v === 10 ? "10¹" : v === 100 ? "10²" : ""),
          },
          afterBuildTicks: (s: any) => {
            s.ticks = xMajor.map((v) => ({ value: v }));
          },
          afterFit: (s: any) => {
            s.height = PAD_B;
          },
        },
        y: {
          type: "linear",
          min: def.yRange[0],
          max: def.yRange[1],
          display: !!(def.yLeft || def.yRight),
          position: def.yRight ? "right" : "left",
          grid: { display: false, drawTicks: false },
          border: { display: false },
          ticks: {
            font: { family: SERIF, size: 56 },
            color: "#000",
            padding: def.yRight ? 14 : 20,
            autoSkip: false,
            callback: (v: number) => String(v),
          },
          afterBuildTicks: (s: any) => {
            s.ticks = def.yLabels.map((v) => ({ value: v }));
          },
          afterFit: (s: any) => {
            s.width = def.yRight ? PAD_R : PAD_L;
          },
        },
      },
    },
    plugins: [makeDeco(def)],
  };
}

function Panel({ def }: { def: PanelDef }) {
  const ref = useRef<HTMLCanvasElement>(null);
  const width = PAD_L + (COL_X[def.col + 1] - COL_X[def.col]) + PAD_R;
  const height = PAD_T + (ROW_Y[def.row + 1] - ROW_Y[def.row]) + PAD_B;
  useEffect(() => {
    if (!ref.current) return;
    const chart = new Chart(ref.current, buildConfig(def));
    return () => chart.destroy();
  }, [def]);
  return (
    <canvas
      ref={ref}
      width={width}
      height={height}
      style={{
        position: "absolute",
        left: COL_X[def.col] - PAD_L,
        top: ROW_Y[def.row] - PAD_T,
        width,
        height,
      }}
    />
  );
}

export default function App() {
  const abs: React.CSSProperties = { position: "absolute", whiteSpace: "nowrap" };
  return (
    <div
      style={{
        position: "absolute",
        left: 0,
        top: 0,
        width: 3581,
        height: 2311,
        background: "#ffffff",
        overflow: "hidden",
      }}
    >
      <div
        style={{
          position: "absolute",
          left: 16,
          top: -40,
          width: 3548,
          height: 47,
          border: "4px solid #dedede",
          borderRadius: 18,
          boxSizing: "border-box",
        }}
      />
      {PANELS.map((p) => (
        <Panel key={p.key} def={p} />
      ))}
      <div style={{ ...abs, left: -4, top: 190, font: `130px ${SANS}`, lineHeight: 1, color: "#000" }}>ins</div>
      <div style={{ ...abs, left: 205, top: 274, font: `81px ${SANS}`, lineHeight: 1, color: "#5a5a5a" }}>
        (i-th bin) × (j-th bin)
      </div>
      <div
        style={{
          position: "absolute",
          left: 1500,
          top: 886,
          width: 594,
          textAlign: "center",
          font: `bold 62px ${SANS}`,
          lineHeight: "85px",
          color: "#5a5a5a",
        }}
      >
        Shaded:
        <br />
        excluded in the
        <br />
        fiducial analysis
      </div>
      <div style={{ ...abs, left: -18, top: 1733, font: `100px ${SERIF}`, lineHeight: 1, color: "#000" }}>
        <i>θ</i>)⟩
      </div>
      <div
        style={{
          ...abs,
          left: 107,
          top: 1170,
          transform: "translate(-50%, -50%) rotate(-90deg)",
          font: `215px ${SERIF}`,
          lineHeight: 1,
          color: "#000",
        }}
      >
        <i>θξ</i>
        <span style={{ fontSize: "0.62em", position: "relative", top: "0.3em" }}>+</span>
        {" × 10"}
        <span style={{ fontSize: "0.62em", position: "relative", top: "-0.75em" }}>4</span>
      </div>
      <div
        style={{
          ...abs,
          left: 3460,
          top: 1085,
          transform: "translate(-50%, -50%) rotate(-90deg)",
          font: `205px ${SERIF}`,
          lineHeight: 1,
          color: "#000",
        }}
      >
        <i>θξ</i>
        <span style={{ fontSize: "0.62em", position: "relative", top: "0.3em" }}>−</span>
        {" × 10"}
        <span style={{ fontSize: "0.62em", position: "relative", top: "-0.75em" }}>4</span>
      </div>
      <div
        style={{
          ...abs,
          left: 1811,
          top: 2188,
          transform: "translate(-50%, -50%)",
          font: `220px ${SERIF}`,
          lineHeight: 1,
          color: "#000",
        }}
      >
        <i>θ</i> [arcmin]
      </div>
    </div>
  );
}
